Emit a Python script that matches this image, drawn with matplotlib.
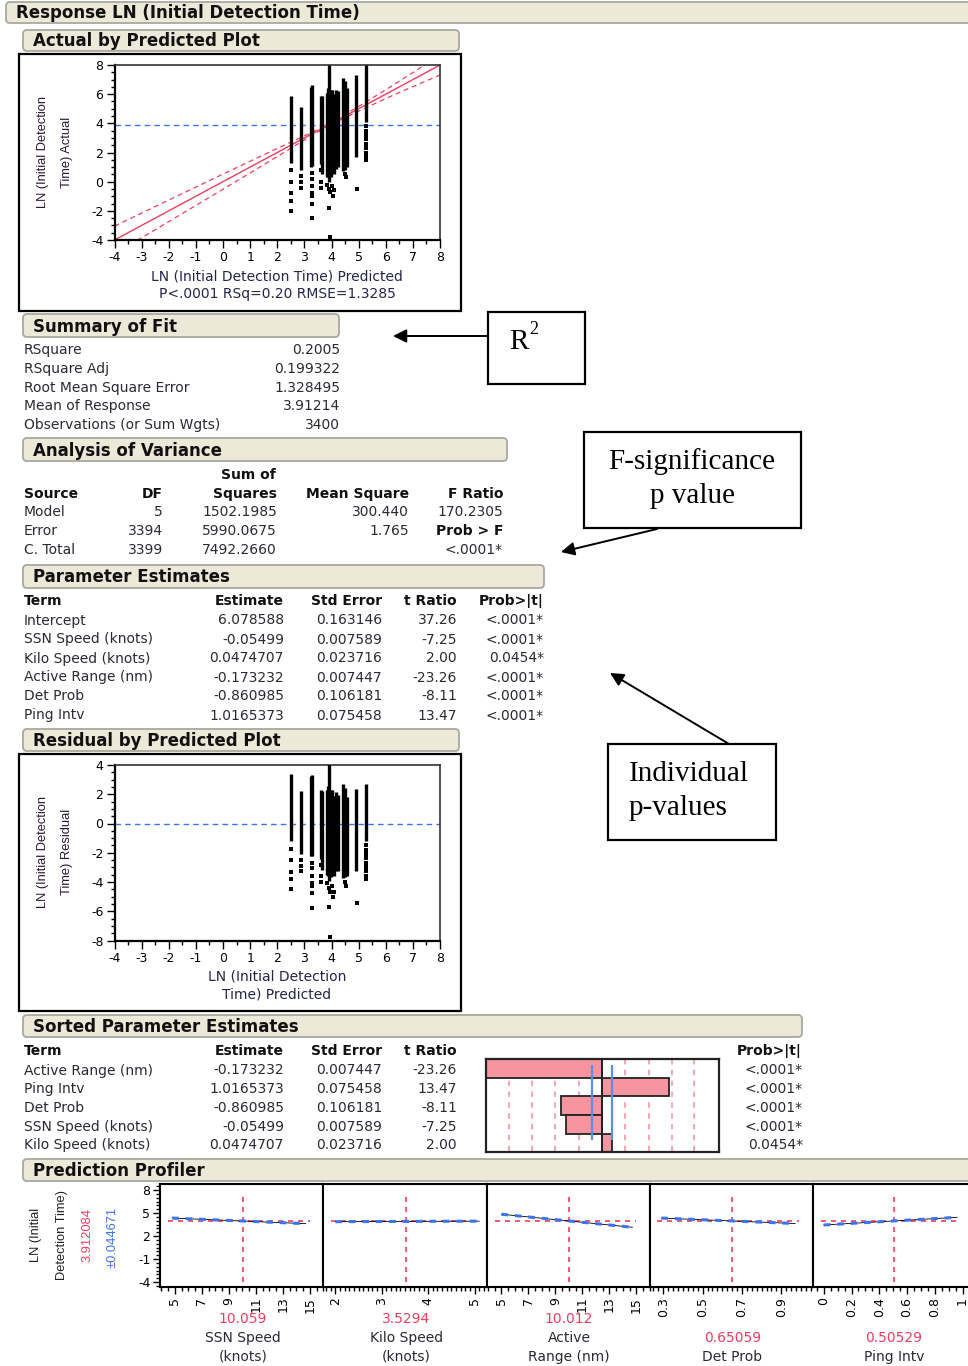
import matplotlib
matplotlib.use('Agg')
import matplotlib.pyplot as plt
from matplotlib import font_manager
from matplotlib.patches import FancyBboxPatch, Rectangle
from matplotlib.ticker import MultipleLocator, FixedLocator

plt.rcParams['font.family'] = ['DejaVu Sans']
plt.rcParams['axes.unicode_minus'] = False

try:
    font_manager.findfont('Liberation Sans Narrow', fallback_to_default=False)
    NARROW, NARROW_SIZE = 'Liberation Sans Narrow', 10.5
except ValueError:
    NARROW, NARROW_SIZE = 'Liberation Sans', 9.3

W, H = 968, 1366

# ---- Summary of Fit ----
fit_labels = ['RSquare', 'RSquare Adj', 'Root Mean Square Error', 'Mean of Response',
              'Observations (or Sum Wgts)']
fit_values = ['0.2005', '0.199322', '1.328495', '3.91214', '3400']
mean_response = 3.91214

# ---- Analysis of Variance ----
anova_source = ['Model', 'Error', 'C. Total']
anova_df = ['5', '3394', '3399']
anova_ss = ['1502.1985', '5990.0675', '7492.2660']
anova_ms = ['300.440', '1.765', '']
anova_last = ['170.2305', 'Prob > F', '<.0001*']

# ---- Parameter Estimates ----
terms = ['Intercept', 'SSN Speed (knots)', 'Kilo Speed (knots)', 'Active Range (nm)',
         'Det Prob', 'Ping Intv']
estimates = ['6.078588', '-0.05499', '0.0474707', '-0.173232', '-0.860985', '1.0165373']
std_errors = ['0.163146', '0.007589', '0.023716', '0.007447', '0.106181', '0.075458']
t_ratios = [37.26, -7.25, 2.00, -23.26, -8.11, 13.47]
p_values = ['<.0001*', '<.0001*', '0.0454*', '<.0001*', '<.0001*', '<.0001*']

# ---- Actual by predicted: stripes of points (predicted value, actual range) ----
pred_cols = [2.51, 2.88, 3.24, 3.29, 3.60, 3.66, 3.82, 3.87, 3.92, 3.98, 4.03, 4.09,
             4.18, 4.24, 4.42, 4.48, 4.58, 4.92, 5.28]
actual_hi = [5.9, 5.1, 6.5, 6.6, 5.9, 5.9, 6.1, 6.4, 8.0, 6.3, 6.3, 6.0,
             6.3, 6.2, 7.1, 6.9, 6.4, 7.3, 8.0]
actual_lo = [1.3, 0.8, 1.0, 1.1, 1.2, 0.5, 0.3, 0.3, 0.0, 0.3, 0.6, 0.5,
             0.9, 1.0, 0.7, 0.8, 1.0, 1.7, 4.1]
out_x = [2.51, 2.51, 2.51, 2.51, 2.51, 2.88, 2.88, 2.88,
         3.27, 3.27, 3.27, 3.27, 3.27, 3.27, 3.27, 3.62, 3.62, 3.62,
         3.85, 3.90, 3.95, 4.00, 4.05, 3.92, 3.93, 4.10, 4.48, 4.55, 4.93,
         5.28, 5.28, 5.28, 5.28, 5.28, 5.28, 5.28, 5.28, 5.28]
out_y = [0.8, 0.0, -0.8, -1.3, -2.0, 0.4, 0.0, -0.4,
         0.6, 0.2, -0.3, -0.8, -1.0, -1.5, -2.5, 0.8, 0.0, -0.4,
         -0.2, -0.5, -0.7, -0.3, -1.0, -1.8, -3.8, -0.6, 0.5, 0.3, -0.5,
         3.8, 3.5, 3.2, 2.9, 2.6, 2.3, 2.0, 1.7, 1.5]

# fit line and its confidence curves
fit_x = [-4, 8]
band_x = [-4, -2, 0, 2, 3, 3.9, 5, 6, 7, 8]
band_half = [0.95, 0.74, 0.52, 0.28, 0.14, 0.06, 0.16, 0.30, 0.48, 0.69]

# ---- Sorted parameter estimates ----
sorted_idx = sorted(range(1, len(terms)), key=lambda i: -abs(t_ratios[i]))
bar_ref = [-18.6, -14.0, -9.4, -4.6, 4.6, 9.4, 14.0, 18.6]
t_crit = 1.96

# ---- Prediction profiler ----
prof_names = ['SSN Speed\n(knots)', 'Kilo Speed\n(knots)', 'Active\nRange (nm)',
              'Det Prob', 'Ping Intv']
prof_current = [10.059, 3.5294, 10.012, 0.65059, 0.50529]
prof_current_txt = ['10.059', '3.5294', '10.012', '0.65059', '0.50529']
prof_xlim = [(3.9, 16.0), (1.74, 5.26), (3.9, 16.0), (0.232, 1.062), (-0.076, 1.10)]
prof_ticks = [[5, 7, 9, 11, 13, 15], [2, 3, 4, 5], [5, 7, 9, 11, 13, 15],
              [0.3, 0.5, 0.7, 0.9], [0, 0.2, 0.4, 0.6, 0.8, 1]]
prof_tick_lbl = [['5', '7', '9', '11', '13', '15'], ['2', '3', '4', '5'],
                 ['5', '7', '9', '11', '13', '15'], ['0.3', '0.5', '0.7', '0.9'],
                 ['0', '0.2', '0.4', '0.6', '0.8', '1']]
prof_minor = [0.5, 0.1, 0.5, 0.025, 0.05]
prof_lo = [4.5, 1.9, 4.5, 0.27, -0.02]
prof_hi = [15.0, 5.1, 15.0, 0.99, 0.99]
trace_x0 = [4.8, 2.0, 5.0, 0.29, 0.0]
trace_x1 = [14.7, 5.1, 14.7, 0.97, 0.96]
trace_y0 = [4.35, 3.88, 4.85, 4.35, 3.45]
trace_y1 = [3.62, 3.95, 3.15, 3.64, 4.45]
pred_value = 3.912084
pred_ci = '±0.044671'

RED = '#EE3F5E'
BLUE = '#3B74F0'
TXT = '#2a2a33'
PINK = '#F6949F'

fig = plt.figure(figsize=(W / 100, H / 100), dpi=100)
bg = fig.add_axes([0, 0, 1, 1])
bg.set_xlim(0, W)
bg.set_ylim(H, 0)
bg.axis('off')


def rect(x0, y0, x1, y1):
    return [x0 / W, 1 - y1 / H, (x1 - x0) / W, (y1 - y0) / H]


def header(x0, y0, x1, y1, title):
    bg.add_patch(FancyBboxPatch((x0 + 3, y0 + 2), x1 - x0 - 6, y1 - y0 - 4,
                                boxstyle='round,pad=2,rounding_size=4',
                                fc='#ECE9D8', ec='#A8A8A0', lw=1.3))
    bg.text(x0 + 11, (y0 + y1) / 2 + 1, title, fontsize=12, fontweight='bold',
            ha='left', va='center', color='#111111')


def txt(x, y, s, ha='left', bold=False, color=TXT, size=10, **kw):
    bg.text(x, y, s, ha=ha, va='center', fontsize=size, color=color,
            fontweight='bold' if bold else 'normal', **kw)


header(5, 2, 975, 23, 'Response LN (Initial Detection Time)')
header(22, 30, 460, 51, 'Actual by Predicted Plot')
header(22, 314, 340, 337, 'Summary of Fit')
header(22, 438, 508, 461, 'Analysis of Variance')
header(22, 565, 545, 588, 'Parameter Estimates')
header(22, 729, 460, 751, 'Residual by Predicted Plot')
header(22, 1015, 803, 1037, 'Sorted Parameter Estimates')
header(22, 1159, 975, 1181, 'Prediction Profiler')

# outer frames of the two diagnostic plots
for y0, y1 in [(54, 311), (754, 1011)]:
    bg.add_patch(Rectangle((19, y0), 442, y1 - y0, fill=False, ec='black', lw=1.6))


def style_plot(ax, ylim, ystep):
    ax.set_xlim(-4, 8)
    ax.set_ylim(*ylim)
    ax.xaxis.set_major_locator(MultipleLocator(1))
    ax.xaxis.set_minor_locator(MultipleLocator(0.5))
    ax.yaxis.set_major_locator(MultipleLocator(ystep))
    ax.yaxis.set_minor_locator(MultipleLocator(0.5))
    ax.tick_params(which='major', direction='out', length=6, width=1, labelsize=9, pad=2)
    ax.tick_params(which='minor', direction='out', length=3, width=1)
    for side in ['left', 'bottom']:
        ax.spines[side].set_linewidth(1.6)
    for side in ['top', 'right']:
        ax.spines[side].set_linewidth(1.2)
        ax.spines[side].set_color('#333333')


def rotated_label(x, y, s, color='#2a1830'):
    bg.text(x, y, s, rotation=90, ha='center', va='center', family=NARROW,
            fontsize=NARROW_SIZE, color=color)


# ---- Actual by Predicted ----
ax1 = fig.add_axes(rect(114.5, 65, 440, 240))
style_plot(ax1, (-4, 8), 2)
ax1.axhline(mean_response, color=BLUE, ls=(0, (4, 3)), lw=1)
ax1.plot(fit_x, fit_x, color=RED, lw=1)
ax1.plot(band_x, [x + h for x, h in zip(band_x, band_half)], color=RED, lw=0.9, ls=(0, (4, 3)))
ax1.plot(band_x, [x - h for x, h in zip(band_x, band_half)], color=RED, lw=0.9, ls=(0, (4, 3)))
ax1.vlines(pred_cols, actual_lo, actual_hi, colors='black', lw=2.4, zorder=3)
ax1.plot(out_x, out_y, 's', ms=2.8, mew=0, color='black', zorder=3)

txt(277, 276, 'LN (Initial Detection Time) Predicted', ha='center', color='#25254a')
txt(277, 294, 'P<.0001 RSq=0.20 RMSE=1.3285', ha='center', color='#25254a')
rotated_label(43, 152, 'LN (Initial Detection')
rotated_label(67, 152, 'Time) Actual')

# ---- Residual by Predicted ----
ax2 = fig.add_axes(rect(114.5, 765, 440, 940.5))
style_plot(ax2, (-8, 4), 2)
ax2.axhline(0, color=BLUE, ls=(0, (4, 3)), lw=1)
ax2.vlines(pred_cols, [lo - x for lo, x in zip(actual_lo, pred_cols)],
           [hi - x for hi, x in zip(actual_hi, pred_cols)], colors='black', lw=2.4, zorder=3)
ax2.plot(out_x, [y - x for x, y in zip(out_x, out_y)], 's', ms=2.8, mew=0, color='black', zorder=3)
txt(277, 976, 'LN (Initial Detection', ha='center', color='#25254a')
txt(277, 995, 'Time) Predicted', ha='center', color='#25254a')
rotated_label(43, 852, 'LN (Initial Detection')
rotated_label(67, 852, 'Time) Residual')

# ---- Summary of Fit ----
for k, (lab, val) in enumerate(zip(fit_labels, fit_values)):
    y = 350 + k * 18.8
    txt(24, y, lab)
    txt(340, y, val, ha='right')

# ---- Analysis of Variance ----
txt(248, 475, 'Sum of', ha='center', bold=True, color='#111111')
txt(24, 494, 'Source', bold=True, color='#111111')
for x, lab in [(163, 'DF'), (277, 'Squares'), (409, 'Mean Square'), (503, 'F Ratio')]:
    txt(x, 494, lab, ha='right', bold=True, color='#111111')
for k in range(len(anova_source)):
    y = 512 + k * 19
    txt(24, y, anova_source[k])
    txt(163, y, anova_df[k], ha='right')
    txt(277, y, anova_ss[k], ha='right')
    txt(409, y, anova_ms[k], ha='right')
    txt(503, y, anova_last[k], ha='right', bold=(anova_last[k] == 'Prob > F'),
        color='#111111' if anova_last[k] == 'Prob > F' else TXT)

# ---- Parameter Estimates ----
cols_r = [284, 382, 457, 544]
txt(24, 601, 'Term', bold=True, color='#111111')
for x, lab in zip(cols_r, ['Estimate', 'Std Error', 't Ratio', 'Prob>|t|']):
    txt(x, 601, lab, ha='right', bold=True, color='#111111')
for k in range(len(terms)):
    y = 620.5 + k * 19
    txt(24, y, terms[k])
    txt(cols_r[0], y, estimates[k], ha='right')
    txt(cols_r[1], y, std_errors[k], ha='right')
    txt(cols_r[2], y, f'{t_ratios[k]:.2f}', ha='right')
    txt(cols_r[3], y, p_values[k], ha='right')

# ---- Sorted Parameter Estimates ----
txt(24, 1051, 'Term', bold=True, color='#111111')
for x, lab in zip([284, 382, 457, 802], ['Estimate', 'Std Error', 't Ratio', 'Prob>|t|']):
    txt(x, 1051, lab, ha='right', bold=True, color='#111111')
for k, i in enumerate(sorted_idx):
    y = 1070.5 + k * 18.7
    txt(24, y, terms[i])
    txt(284, y, estimates[i], ha='right')
    txt(382, y, std_errors[i], ha='right')
    txt(457, y, f'{t_ratios[i]:.2f}', ha='right')
    txt(803, y, p_values[i], ha='right')

axb = fig.add_axes(rect(486, 1059, 719.3, 1152.3))
axb.set_xlim(-23.26, 23.6)
axb.set_ylim(len(sorted_idx) - 0.5, -0.5)
axb.vlines(bar_ref, -0.5, len(sorted_idx) - 0.5, colors='#F4A0AE', lw=1.3, ls=(0, (3, 3)), zorder=1)
axb.barh(range(len(sorted_idx)), [t_ratios[i] for i in sorted_idx], height=1.0,
         color=PINK, edgecolor='#222222', lw=1.3, zorder=2)
axb.axvline(0, color='#222222', lw=1.3, zorder=3)
axb.vlines([-t_crit, t_crit], -0.2, 3.85, colors='#5B8DEF', lw=1.6, zorder=4)
axb.set_xticks([])
axb.set_yticks([])
for s in axb.spines.values():
    s.set_linewidth(1.6)
    s.set_color('#222222')

# ---- Prediction Profiler ----
pw = 163.3
for i in range(len(prof_names)):
    x0 = 160 + pw * i
    ax = fig.add_axes(rect(x0, 1184, x0 + pw, 1287))
    ax.set_xlim(*prof_xlim[i])
    ax.set_ylim(-4.65, 8.8)
    ax.hlines(pred_value, prof_lo[i], prof_hi[i], colors=RED, lw=1.2, ls=(0, (3, 3)))
    ax.vlines(prof_current[i], -4.0, 7.5, colors=RED, lw=1.2, ls=(0, (3, 3)))
    ax.plot([trace_x0[i], trace_x1[i]], [trace_y0[i], trace_y1[i]], color='black', lw=0.6)
    ax.plot([trace_x0[i], trace_x1[i]], [trace_y0[i], trace_y1[i]], color=BLUE, lw=2.2,
            ls=(0, (2.2, 2.2)))
    ax.xaxis.set_major_locator(FixedLocator(prof_ticks[i]))
    ax.set_xticklabels(prof_tick_lbl[i], rotation=90)
    ax.xaxis.set_minor_locator(MultipleLocator(prof_minor[i]))
    ax.tick_params(axis='x', which='major', direction='out', length=5, width=1, labelsize=9, pad=2)
    ax.tick_params(axis='x', which='minor', direction='out', length=3, width=1)
    if i == 0:
        ax.yaxis.set_major_locator(FixedLocator([8, 5, 2, -1, -4]))
        ax.yaxis.set_minor_locator(MultipleLocator(0.5))
        ax.tick_params(axis='y', which='major', direction='out', length=5, width=1, labelsize=9, pad=2)
        ax.tick_params(axis='y', which='minor', direction='out', length=3, width=1)
    else:
        ax.set_yticks([])
    for s in ax.spines.values():
        s.set_linewidth(1.5)
    cx = x0 + pw * (prof_current[i] - prof_xlim[i][0]) / (prof_xlim[i][1] - prof_xlim[i][0])
    lines = prof_names[i].split('\n')
    for j, line in enumerate(lines):
        txt(cx, 1357 - 19 * (len(lines) - 1 - j), line, ha='center')
    txt(cx, 1357 - 19 * len(lines), prof_current_txt[i], ha='center', color=RED)

rotated_label(36, 1235, 'LN (Initial', '#222222')
rotated_label(62, 1235, 'Detection Time)', '#222222')
rotated_label(88, 1235, f'{pred_value:.6f}', RED)
rotated_label(113, 1237, pred_ci, BLUE)

# ---- annotation boxes ----
SERIF = 'Liberation Serif'
for (x0, y0, x1, y1) in [(488, 312, 585, 384), (584, 432, 801, 528), (608, 744, 776, 840)]:
    bg.add_patch(Rectangle((x0, y0), x1 - x0, y1 - y0, fill=False, ec='black', lw=1.6))
bg.text(509, 342, 'R', family=SERIF, fontsize=21, ha='left', va='center')
bg.text(529, 330, '2', family=SERIF, fontsize=13, ha='left', va='center')
bg.text(692, 462, 'F-significance', family=SERIF, fontsize=21, ha='center', va='center')
bg.text(692, 496, 'p value', family=SERIF, fontsize=21, ha='center', va='center')
bg.text(629, 774, 'Individual', family=SERIF, fontsize=21, ha='left', va='center')
bg.text(629, 808, 'p-values', family=SERIF, fontsize=21, ha='left', va='center')

arrow = dict(arrowstyle='-|>', color='black', lw=1.4, mutation_scale=20, shrinkA=0, shrinkB=0)
bg.annotate('', xy=(393, 336), xytext=(488, 336), arrowprops=arrow)
bg.annotate('', xy=(561, 552), xytext=(657, 529), arrowprops=arrow)
bg.annotate('', xy=(610, 673), xytext=(729, 744), arrowprops=arrow)

fig.savefig('out.png', dpi=100)
